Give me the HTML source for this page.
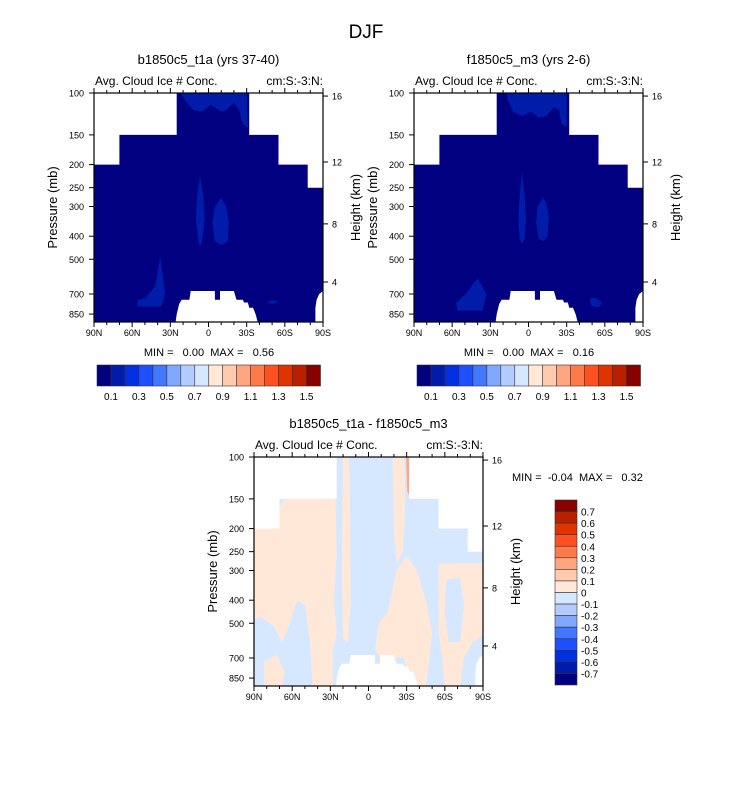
<!DOCTYPE html>
<html><head><meta charset="utf-8"><style>
html,body{margin:0;padding:0;background:#fff;}
svg text{font-family:"Liberation Sans",sans-serif;fill:#000;}
</style></head><body>
<svg id="chart" xmlns="http://www.w3.org/2000/svg" width="733" height="784" viewBox="0 0 733 784">
<rect x="0" y="0" width="733" height="784" fill="#fff"/>
<text x="366" y="38" font-size="19" text-anchor="middle">DJF</text>
</svg>
<script>
const colors = ["#000080","#001ca8","#0030e0","#1f4fff","#4477ff","#80a8ff","#b4cbff","#d6e8ff","#ffe8d8","#ffcaae","#ffa680","#ff7a48","#ff5020","#e03400","#b82000","#880000"];
const latTicks = [90,60,30,0,-30,-60,-90];
const latLabels = ["90N","60N","30N","0","30S","60S","90S"];
const pTicks = [100,150,200,250,300,400,500,700,850];
const hTickLabels = ["16","12","8","4"];
const hTickP = [103,195,355,623];
const maskLats = [90,70,25,-32,-55,-78,-90];
const maskTopP = [200,150,100,150,200,250];
const groundPts = [[26,930],[25,850],[23,770],[21,740],[15,740],[14,680],[-5,680],[-5,740],[-9,740],[-9,680],[-20,680],[-22,740],[-27,740],[-28,760],[-31,760],[-32,800],[-35,800],[-37,850],[-39,930]];
const ground2 = [[-84,930],[-84,800],[-85,740],[-87,700],[-90,680],[-90,930]];
const hbarLabels = ["0.1","0.3","0.5","0.7","0.9","1.1","1.3","1.5"];
const vbarLabels = ["0.7","0.6","0.5","0.4","0.3","0.2","0.1","0","-0.1","-0.2","-0.3","-0.4","-0.5","-0.6","-0.7"];
const blobsA = [
 [[22,100],[-30,100],[-31,140],[-27,135],[-24,118],[-20,110],[-14,118],[-10,120],[-2,112],[5,120],[12,118],[18,108]],
 [[6.7,223],[9,270],[10,340],[8,420],[6.7,443],[5,420],[3,340],[4,270]],
 [[-10,276],[-5,300],[-3,350],[-5,420],[-10,436],[-15,420],[-16,350],[-14,300]],
 [[38,488],[34,700],[37,790],[56,790],[56,741],[50,730],[42,650]],
 [[-47,750],[-51,745],[-55,757],[-51,770],[-47,765]]
];
const blobsB = [
 [[17,100],[-30,100],[-30,139],[-26,135],[-24,118],[-20,115],[-14,125],[-8,127],[-2,120],[5,125],[12,120],[16,108]],
 [[5,217],[7,270],[8,340],[7,410],[5,431],[3,410],[2,340],[3,270]],
 [[-11.5,274],[-7,300],[-6,350],[-8,410],[-11.5,420],[-15,400],[-16,330],[-14,290]],
 [[40,600],[33,700],[36,823],[56,823],[57,760],[50,705]],
 [[-48,730],[-53,727],[-58,760],[-55,800],[-49,780]]
];
const diffPeach = [
 [[90,200],[72,200],[72,170],[66,150],[26,150],[25,250],[27,400],[25,550],[28,650],[28,930],[44,930],[46,600],[50,420],[56,400],[62,500],[68,600],[74,520],[84,470],[90,480]],
 [[20,100],[15,100],[14,400],[16,600],[20,580],[21,300]],
 [[-8,500],[-5,650],[-10,700],[-28,700],[-30,800],[-35,930],[-45,930],[-48,700],[-50,550],[-45,400],[-38,300],[-30,260],[-22,300],[-15,450]],
 [[-19,100],[-28,100],[-29,150],[-27,250],[-22,280],[-20,200]],
 [[-55,280],[-90,280],[-90,560],[-82,600],[-75,700],[-72,930],[-60,930],[-58,700],[-55,550]],
 [[82,720],[72,680],[66,800],[68,930],[82,930]]
];
const diffBlue = [
 [[-61,330],[-72,320],[-75,420],[-72,600],[-63,600],[-60,450]]
];
const diffOrange = [[[-29.5,100],[-32,100],[-32,145],[-30.5,140]]];

const NS="http://www.w3.org/2000/svg";
const svg=document.getElementById('chart');
function el(tag,attrs,parent){const e=document.createElementNS(NS,tag);for(const k in attrs)e.setAttribute(k,attrs[k]);(parent||svg).appendChild(e);return e;}
function txt(x,y,s,size,anchor,parent){const t=el('text',{x:x,y:y,'font-size':size,'text-anchor':anchor||'start'},parent);t.textContent=s;return t;}

function panel(ox,oy,title,name,blobs,mode,minmax,mmx,mmy,mmAnchor){
 const W=229,H=229;
 const xs=lat=>ox+(90-lat)/180*W;
 const ys=p=>oy+103.3*Math.log(p/100);
 const g=el('g',{});
 
 
 const cid='clip'+name;
 const cp=el('clipPath',{id:cid},g);el('rect',{x:ox,y:oy,width:W,height:H},cp);
 const pg=el('g',{'clip-path':'url(#'+cid+')'},g);
 const poly=(pts,fill,nm)=>{const p=el('polygon',{points:pts.map(q=>xs(q[0]).toFixed(1)+','+ys(q[1]).toFixed(1)).join(' '),fill:fill},pg);return p;};
 const base=el('rect',{x:ox,y:oy,width:W,height:H,fill:mode==='diff'?colors[7]:colors[0]},pg);
 
 
 if(mode==='diff'){
  diffPeach.forEach(b=>poly(b,colors[8],'positive-region'));
  diffBlue.forEach(b=>poly(b,colors[7],'negative-region'));
  diffOrange.forEach(b=>poly(b,colors[10],'positive-region-strong'));
 } else {
  blobs.forEach(b=>poly(b,colors[1],'contour-region'));
 }
 const mp=[[90,100]];
 for(let i=0;i<maskTopP.length;i++){mp.push([maskLats[i],maskTopP[i]]);mp.push([maskLats[i+1],maskTopP[i]]);}
 mp.push([-90,100]);
 poly(mp,'#fff','missing-upper');
 poly(groundPts,'#fff','missing-ground');
 poly(ground2,'#fff','missing-ground-south');
 el('rect',{x:ox,y:oy,width:W,height:H,fill:'none',stroke:'#000','stroke-width':1.2},g);
 for(let l=90;l>=-90;l-=10){const x=xs(l);const major=l%30===0;const len=major?5:3;
  el('line',{x1:x,y1:oy+H,x2:x,y2:oy+H+len,stroke:'#000','stroke-width':1},g);
  el('line',{x1:x,y1:oy,x2:x,y2:oy-len,stroke:'#000','stroke-width':1},g);}
 latTicks.forEach((l,i)=>{const t=txt(xs(l),oy+H+14,latLabels[i],9,'middle',g);});
 pTicks.forEach(p=>{const y=ys(p);el('line',{x1:ox-5,y1:y,x2:ox,y2:y,stroke:'#000','stroke-width':1},g);
  const t=txt(ox-10,y+3.5,String(p),9,'end',g);});
 hTickP.forEach((p,i)=>{const y=ys(p);el('line',{x1:ox+W,y1:y,x2:ox+W+5,y2:y,stroke:'#000','stroke-width':1},g);
  const t=txt(ox+W+9,y+3.5,hTickLabels[i],9,'start',g);});
 const yl=txt(0,0,'Pressure (mb)',13,'middle',g);yl.setAttribute('transform','translate('+(ox-37)+','+(oy+H/2)+') rotate(-90)');
 
 const hl=txt(0,0,'Height (km)',13,'middle',g);hl.setAttribute('transform','translate('+(ox+W+37)+','+(oy+H/2)+') rotate(-90)');
 
 const tt=txt(ox+W/2,oy-29,title,13,'middle',g);
 const l1=txt(ox+1,oy-8,'Avg. Cloud Ice # Conc.',12,'start',g);
 const r1=txt(ox+W,oy-8,'cm:S:-3:N:',12,'end',g);
 const mm=txt(mmx,mmy,minmax,11,mmAnchor,g);
 mm.setAttribute('xml:space','preserve');mm.style.whiteSpace='pre';
}
function hbar(x0,y0,name){
 const g=el('g',{});
 const w=223.5/colors.length;
 colors.forEach((c,i)=>{const r=el('rect',{x:x0+i*w,y:y0,width:w,height:21,fill:c,stroke:'#333','stroke-width':0.6},g);});
 hbarLabels.forEach((s,i)=>{const t=txt(x0+(2*i+1)*w,y0+35,s,10,'middle',g);});
}
function vbar(x0,y0,name){
 const g=el('g',{});
 const h=185/colors.length;
 colors.slice().reverse().forEach((c,i)=>{const r=el('rect',{x:x0,y:y0+i*h,width:22,height:h,fill:c,stroke:'#333','stroke-width':0.6},g);});
 vbarLabels.forEach((s,i)=>{const t=txt(x0+26,y0+(i+1)*h+4,s,10,'start',g);});
}
panel(94,93,'b1850c5_t1a (yrs 37-40)','panel-b1850c5',blobsA,'field','MIN =   0.00  MAX =   0.56',209,356,'middle');
panel(414,93,'f1850c5_m3 (yrs 2-6)','panel-f1850c5',blobsB,'field','MIN =   0.00  MAX =   0.16',529,356,'middle');
panel(254,457,'b1850c5_t1a - f1850c5_m3','panel-difference',null,'diff','MIN =  -0.04  MAX =   0.32',512,481,'start');
hbar(97,365,'colorbar-left');
hbar(417,365,'colorbar-right');
vbar(555,500,'colorbar-difference');
</script>
</body></html>
